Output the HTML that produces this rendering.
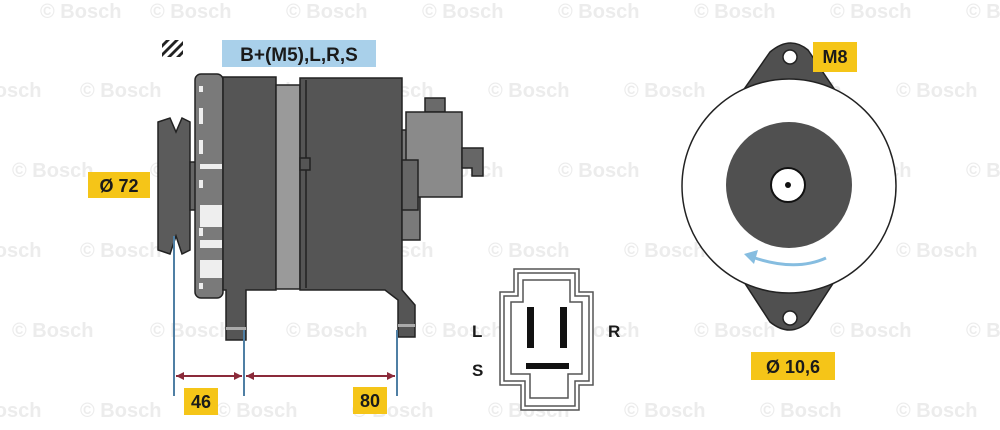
<!DOCTYPE html>
<html><head><meta charset="utf-8"><style>
html,body{margin:0;padding:0;background:#fff;}
svg{display:block;font-family:"Liberation Sans",Arial,sans-serif;}
.wm{fill:#ececec;font-size:20px;font-weight:bold;}
.lb{font-weight:bold;fill:#1a1a1a;}
</style></head><body>
<svg width="1000" height="430" viewBox="0 0 1000 430" xmlns="http://www.w3.org/2000/svg">
<g class="wm">
<text x="40" y="18">© Bosch</text><text x="150" y="18">© Bosch</text><text x="286" y="18">© Bosch</text><text x="422" y="18">© Bosch</text><text x="558" y="18">© Bosch</text><text x="694" y="18">© Bosch</text><text x="830" y="18">© Bosch</text><text x="966" y="18">© Bosch</text>
<text x="-40" y="97">© Bosch</text><text x="80" y="97">© Bosch</text><text x="216" y="97">© Bosch</text><text x="352" y="97">© Bosch</text><text x="488" y="97">© Bosch</text><text x="624" y="97">© Bosch</text><text x="760" y="97">© Bosch</text><text x="896" y="97">© Bosch</text>
<text x="12" y="177">© Bosch</text><text x="150" y="177">© Bosch</text><text x="286" y="177">© Bosch</text><text x="422" y="177">© Bosch</text><text x="558" y="177">© Bosch</text><text x="694" y="177">© Bosch</text><text x="830" y="177">© Bosch</text><text x="966" y="177">© Bosch</text>
<text x="-40" y="257">© Bosch</text><text x="80" y="257">© Bosch</text><text x="216" y="257">© Bosch</text><text x="352" y="257">© Bosch</text><text x="488" y="257">© Bosch</text><text x="624" y="257">© Bosch</text><text x="760" y="257">© Bosch</text><text x="896" y="257">© Bosch</text>
<text x="12" y="337">© Bosch</text><text x="150" y="337">© Bosch</text><text x="286" y="337">© Bosch</text><text x="422" y="337">© Bosch</text><text x="558" y="337">© Bosch</text><text x="694" y="337">© Bosch</text><text x="830" y="337">© Bosch</text><text x="966" y="337">© Bosch</text>
<text x="-40" y="417">© Bosch</text><text x="80" y="417">© Bosch</text><text x="216" y="417">© Bosch</text><text x="352" y="417">© Bosch</text><text x="488" y="417">© Bosch</text><text x="624" y="417">© Bosch</text><text x="760" y="417">© Bosch</text><text x="896" y="417">© Bosch</text>
</g>

<!-- hatch icon -->
<g>
<rect x="162" y="40" width="21" height="17" fill="#fff"/>
<path d="M162 44 L166 40 L170 40 L162 48Z M162 53 L175 40 L179 40 L162 57Z M167 57 L183 41 L183 45 L171 57Z M176 57 L183 50 L183 54 L180 57Z" fill="#222"/>
</g>
<rect x="222" y="40" width="154" height="27" fill="#a9d0ea"/>
<text x="299" y="61" class="lb" font-size="19" text-anchor="middle">B+(M5),L,R,S</text>

<!-- alternator side -->
<g stroke="#222" stroke-width="1.5">
<!-- pulley -->
<path d="M158 122 L170 118 L176 132 L182 118 L190 122 L190 250 L182 254 L176 236 L170 254 L158 250Z" fill="#5b5b5b"/>
<rect x="190" y="162" width="8" height="48" fill="#666"/>
<!-- front flange -->
<rect x="195" y="74" width="28" height="224" rx="6" fill="#7a7a7a"/>
<g fill="#eee" stroke="none">
<rect x="199" y="86" width="4" height="6"/><rect x="199" y="108" width="4" height="16"/><rect x="199" y="140" width="4" height="14"/><rect x="199" y="180" width="4" height="8"/><rect x="199" y="228" width="4" height="8"/><rect x="199" y="283" width="4" height="6"/>
<rect x="200" y="164" width="22" height="5"/><rect x="200" y="205" width="22" height="22"/><rect x="200" y="240" width="22" height="8"/><rect x="200" y="260" width="22" height="18"/>
</g>
<!-- body 1 with legs -->
<path d="M223 77 L276 77 L276 290 L246 290 L246 340 L226 340 L226 290 L223 290Z" fill="#555"/>
<rect x="276" y="85" width="24" height="204" fill="#9a9a9a"/>
<!-- body 2 -->
<path d="M300 78 L402 78 L402 290 L415 305 L415 337 L398 337 L398 300 L385 290 L300 290Z" fill="#555"/>
<line x1="306" y1="80" x2="306" y2="288"/>
<rect x="300" y="158" width="10" height="12" fill="#555"/>
<!-- rear -->
<rect x="402" y="130" width="18" height="110" fill="#7a7a7a"/>
<rect x="425" y="98" width="20" height="14" fill="#6a6a6a"/>
<rect x="406" y="112" width="56" height="85" fill="#8a8a8a"/>
<rect x="402" y="160" width="16" height="50" fill="#666"/>
<path d="M462 148 L483 148 L483 176 L472 176 L472 168 L462 168Z" fill="#666"/>
</g>
<rect x="226" y="327" width="20" height="3" fill="#aaa"/>
<rect x="398" y="324" width="17" height="3" fill="#aaa"/>

<!-- dims -->
<g stroke="#4f7fa4" stroke-width="2">
<line x1="174" y1="236" x2="174" y2="396"/>
<line x1="244" y1="330" x2="244" y2="396"/>
<line x1="397" y1="330" x2="397" y2="396"/>
</g>
<g stroke="#8b2a3a" stroke-width="2" fill="#8b2a3a">
<line x1="176" y1="376" x2="242" y2="376"/>
<line x1="246" y1="376" x2="395" y2="376"/>
<path d="M176 376 L184 372 L184 380Z M242 376 L234 372 L234 380Z M246 376 L254 372 L254 380Z M395 376 L387 372 L387 380Z" stroke="none"/>
</g>
<rect x="88" y="172" width="62" height="26" fill="#f5c518"/>
<text x="119" y="192" class="lb" font-size="18" text-anchor="middle">Ø 72</text>
<rect x="184" y="388" width="34" height="27" fill="#f5c518"/>
<text x="201" y="408" class="lb" font-size="18" text-anchor="middle">46</text>
<rect x="353" y="387" width="34" height="27" fill="#f5c518"/>
<text x="370" y="407" class="lb" font-size="18" text-anchor="middle">80</text>

<!-- connector -->
<g fill="none" stroke="#555" stroke-width="1.5">
<path d="M514 269 L579 269 L579 292 L593 292 L593 385 L579 385 L579 410 L521 410 L521 385 L500 385 L500 292 L514 292Z" fill="#fff"/>
<path d="M518 273 L575 273 L575 296 L589 296 L589 381 L575 381 L575 406 L525 406 L525 381 L504 381 L504 296 L518 296Z"/>
<path d="M523 280 L570 280 L570 302 L582 302 L582 374 L568 374 L568 398 L530 398 L530 374 L511 374 L511 302 L523 302Z"/>
</g>
<rect x="527" y="307" width="7" height="41" fill="#111"/>
<rect x="560" y="307" width="7" height="41" fill="#111"/>
<rect x="526" y="363" width="43" height="6" fill="#111"/>
<text x="472" y="337" class="lb" font-size="17">L</text>
<text x="472" y="376" class="lb" font-size="17">S</text>
<text x="608" y="337" class="lb" font-size="17">R</text>

<!-- end view -->
<path d="M770 52 Q790 35 808 50 L845 105 L845 265 L808 322 Q790 338 770 322 L733 265 L733 105Z" fill="#505050" stroke="#222" stroke-width="1.5"/>
<circle cx="790" cy="57" r="7" fill="#fff" stroke="#222" stroke-width="1.5"/>
<circle cx="790" cy="318" r="7" fill="#fff" stroke="#222" stroke-width="1.5"/>
<circle cx="789" cy="186" r="107" fill="#fff" stroke="#222" stroke-width="1.5"/>
<circle cx="789" cy="185" r="63" fill="#505050"/>
<circle cx="788" cy="185" r="17" fill="#fff" stroke="#111" stroke-width="2"/>
<circle cx="788" cy="185" r="3" fill="#111"/>
<path d="M826 258 Q795 272 752 257" fill="none" stroke="#86bde0" stroke-width="3"/>
<path d="M744 254 L758 250 L754 264Z" fill="#86bde0"/>
<rect x="813" y="42" width="44" height="30" fill="#f5c518"/>
<text x="835" y="63" class="lb" font-size="18" text-anchor="middle">M8</text>
<rect x="751" y="352" width="84" height="28" fill="#f5c518"/>
<text x="793" y="373" class="lb" font-size="18" text-anchor="middle">Ø 10,6</text>
</svg>
</body></html>
